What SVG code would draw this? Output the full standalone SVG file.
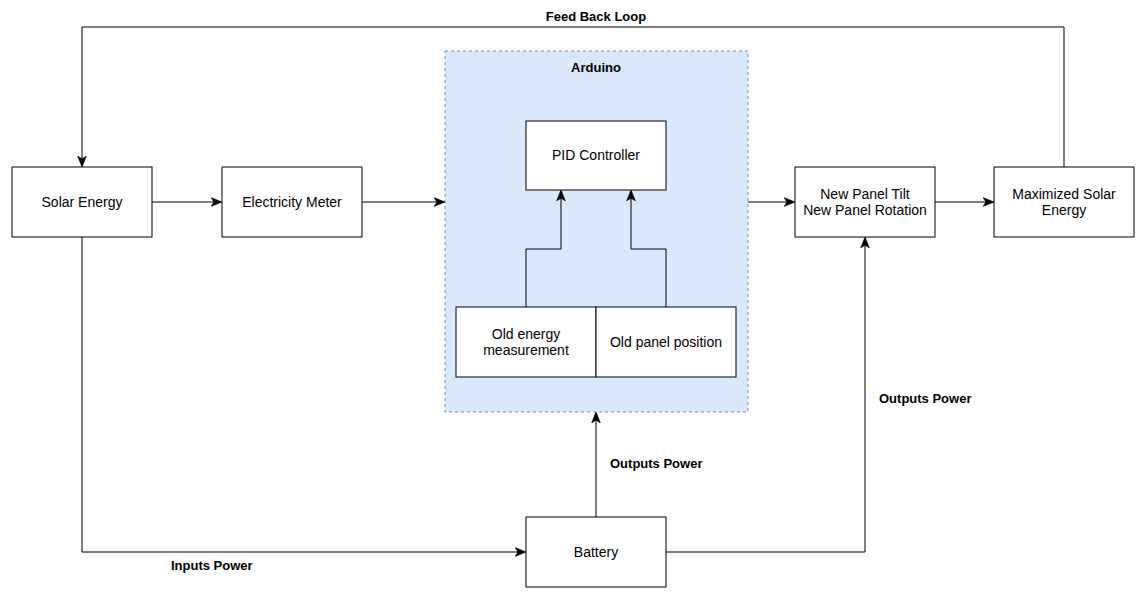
<svg xmlns="http://www.w3.org/2000/svg" width="1142" height="604" viewBox="0 0 1142 604">
<style>
.box{fill:#ffffff;stroke:#000000;stroke-width:1}
.t{font-family:"Liberation Sans",Arial,sans-serif;font-size:14px;fill:#000000;text-anchor:middle;dominant-baseline:central}
.b{font-family:"Liberation Sans",Arial,sans-serif;font-size:13px;font-weight:bold;fill:#000000}
.c{fill:none;stroke:#000000;stroke-width:1}
</style>
<defs>
<marker id="arr" viewBox="0 0 10 10" refX="9" refY="5" markerWidth="11" markerHeight="11" markerUnits="userSpaceOnUse" orient="auto">
<path d="M0,1 L10,5 L0,9 L2.5,5 Z" fill="#000000" stroke="#000000" stroke-width="0.5"/>
</marker>
</defs>
<rect width="1142" height="604" fill="#ffffff"/>
<g id="arduino">
<rect x="445" y="51" width="303" height="361" fill="#dae8fc" stroke="#6c8ebf" stroke-width="1" stroke-dasharray="3,3"/>
<text class="b" x="596" y="72" text-anchor="middle">Arduino</text>
</g>
<g id="solar"><rect class="box" x="12" y="167" width="140" height="70"/><text class="t" x="82" y="202">Solar Energy</text></g>
<g id="meter"><rect class="box" x="222" y="167" width="140" height="70"/><text class="t" x="292" y="202">Electricity Meter</text></g>
<g id="pid"><rect class="box" x="526" y="121" width="140" height="69"/><text class="t" x="596" y="155">PID Controller</text></g>
<g id="oldenergy"><rect class="box" x="456" y="307" width="140" height="70"/><text class="t" x="526" y="334">Old energy</text><text class="t" x="526" y="350">measurement</text></g>
<g id="oldpanel"><rect class="box" x="596" y="307" width="140" height="70"/><text class="t" x="666" y="342">Old panel position</text></g>
<g id="newpanel"><rect class="box" x="795" y="167" width="140" height="70"/><text class="t" x="865" y="194">New Panel Tilt</text><text class="t" x="865" y="210">New Panel Rotation</text></g>
<g id="maximized"><rect class="box" x="994" y="167" width="140" height="70"/><text class="t" x="1064" y="194">Maximized Solar</text><text class="t" x="1064" y="210">Energy</text></g>
<g id="battery"><rect class="box" x="526" y="517" width="140" height="70"/><text class="t" x="596" y="552">Battery</text></g>
<g id="connectors">
<path class="c" d="M1064,167 L1064,27 L82,27 L82,166" marker-end="url(#arr)"/>
<path class="c" d="M152,202 L221,202" marker-end="url(#arr)"/>
<path class="c" d="M362,202 L444,202" marker-end="url(#arr)"/>
<path class="c" d="M748,202 L794,202" marker-end="url(#arr)"/>
<path class="c" d="M935,202 L993,202" marker-end="url(#arr)"/>
<path class="c" d="M526,307 L526,249 L561,249 L561,191" marker-end="url(#arr)"/>
<path class="c" d="M666,307 L666,249 L631,249 L631,191" marker-end="url(#arr)"/>
<path class="c" d="M82,237 L82,552 L525,552" marker-end="url(#arr)"/>
<path class="c" d="M596,517 L596,413" marker-end="url(#arr)"/>
<path class="c" d="M666,552 L865,552 L865,238" marker-end="url(#arr)"/>
<text class="b" x="596" y="21" text-anchor="middle">Feed Back Loop</text>
<text class="b" x="610" y="468">Outputs Power</text>
<text class="b" x="879" y="403">Outputs Power</text>
<text class="b" x="171" y="570">Inputs Power</text>
</g>
</svg>
